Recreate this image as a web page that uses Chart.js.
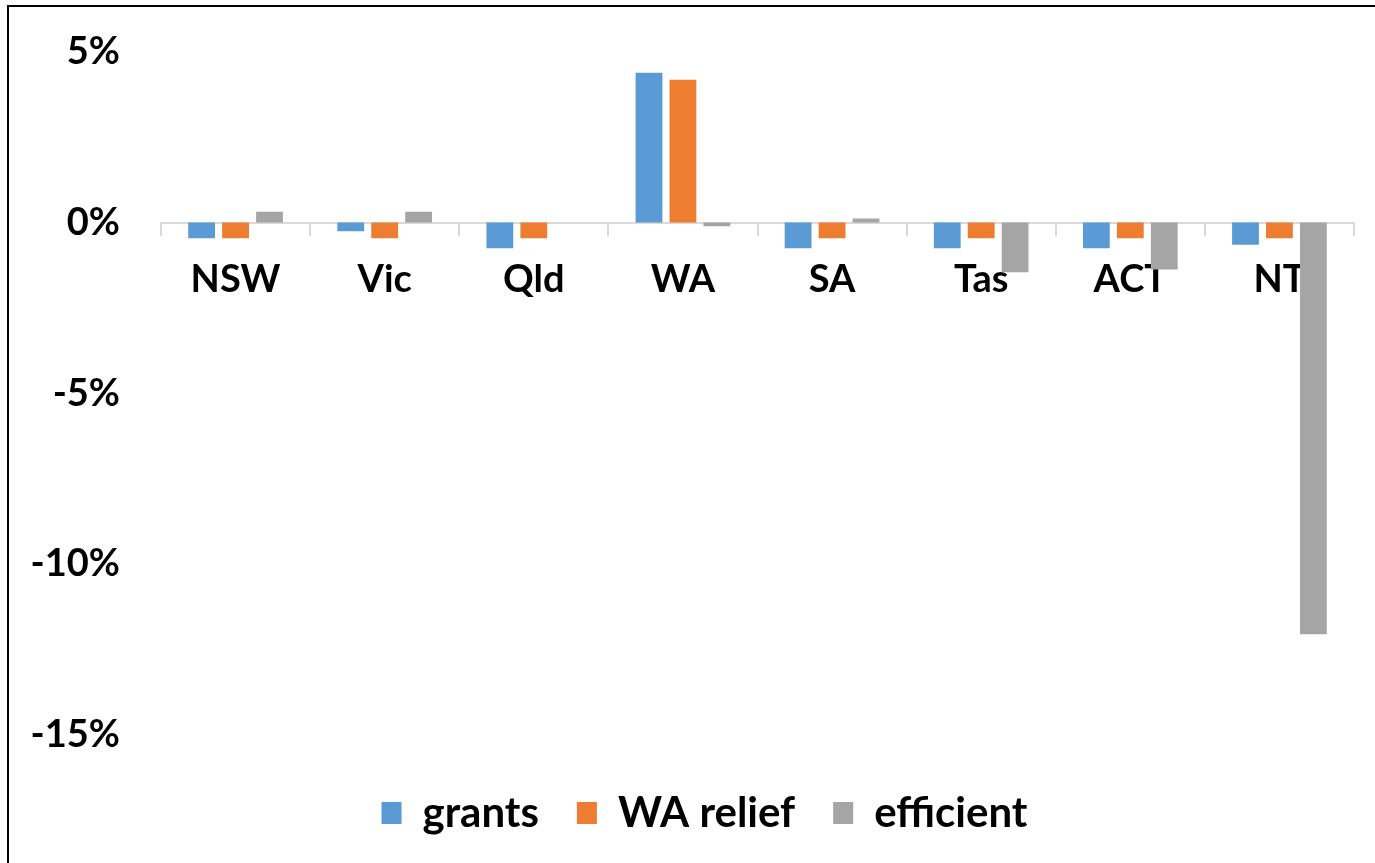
<!DOCTYPE html>
<html>
<head>
<meta charset="utf-8">
<script src="https://cdn.jsdelivr.net/npm/chart.js@4/dist/chart.umd.min.js"></script>
<style>
  html, body { margin: 0; padding: 0; background: #fff; overflow: hidden; }
  #wrap { position: relative; width: 1375px; height: 863px; overflow: hidden; }
  #bar-chart { display: block; position: absolute; left: 0; top: -4px; }
  #frame { position: absolute; left: 7px; top: 5px; right: -10px; bottom: -10px;
           border-left: 2px solid #000; border-top: 2px solid #000; pointer-events: none; }
</style>
</head>
<body>
<div id="wrap">
  <canvas id="bar-chart" width="1375" height="867"></canvas>
  <div id="frame"></div>
</div>
<script>
// states
let states = ["NSW", "Vic", "Qld", "WA", "SA", "Tas", "ACT", "NT"];

// change in share, per cent
let grants    = [-0.46, -0.25, -0.75, 4.39, -0.75, -0.75, -0.75, -0.65];
let waRelief  = [-0.46, -0.46, -0.46, 4.18, -0.46, -0.46, -0.46, -0.46];
let efficient = [0.32, 0.32, 0, -0.11, 0.12, -1.45, -1.37, -12.05];

let yTicks = [5, 0, -5, -10, -15];

const font = "Lato, 'Open Sans', sans-serif";

let makeSet = function(label, data, color){
    return {
        label: label,
        data: data,
        backgroundColor: color,
        borderWidth: 0,
        categoryPercentage: 0.683,
        barPercentage: 0.79
    };
};

// legend sits a bit right of the page centre in the original
const legendShift = {
    id: 'legendShift',
    afterLayout: (chart) => { chart.legend.left += 55; }
};

const config = {
    type: 'bar',
    data: {
        labels: states,
        datasets: [
            makeSet('grants', grants, '#5B9BD5'),
            makeSet('WA relief', waRelief, '#ED7D31'),
            makeSet('efficient', efficient, '#A5A5A5')
        ]
    },
    options: {
        responsive: false,
        animation: false,
        layout: { padding: { top: 48, right: 21, bottom: 19, left: 0 } },
        plugins: {
            legend: {
                position: 'bottom',
                labels: {
                    color: '#000',
                    font: { family: font, size: 42, weight: 'bold' },
                    boxWidth: 20,
                    boxHeight: 22,
                    padding: 38
                }
            },
            tooltip: { enabled: false }
        },
        scales: {
            x: {
                position: { y: 0 },
                afterFit: (s) => { s.height = 0; },
                grid: {
                    display: true,
                    drawOnChartArea: false,
                    drawTicks: true,
                    tickLength: 12,
                    color: '#D9D9D9',
                    lineWidth: 2
                },
                border: { display: true, color: '#D9D9D9', width: 2 },
                ticks: {
                    color: '#000',
                    padding: 22,
                    font: { family: font, size: 38, weight: 'bold' }
                }
            },
            spacer: {
                type: 'category',
                position: 'bottom',
                labels: states,
                grid: { display: false },
                border: { display: false },
                ticks: { display: false },
                afterFit: (s) => { s.height = 19; }
            },
            y: {
                min: -15,
                max: 5,
                afterBuildTicks: (s) => { s.ticks = yTicks.map(v => ({ value: v })); },
                afterFit: (s) => { s.width = 161; },
                grid: { display: false },
                border: { display: false },
                ticks: {
                    color: '#000',
                    padding: 33,
                    font: { family: font, size: 38, weight: 'bold' },
                    callback: (v) => v + '%'
                }
            }
        }
    },
    plugins: [legendShift]
};

let myChart = new Chart(document.querySelector('#bar-chart'), config);
</script>
</body>
</html>
